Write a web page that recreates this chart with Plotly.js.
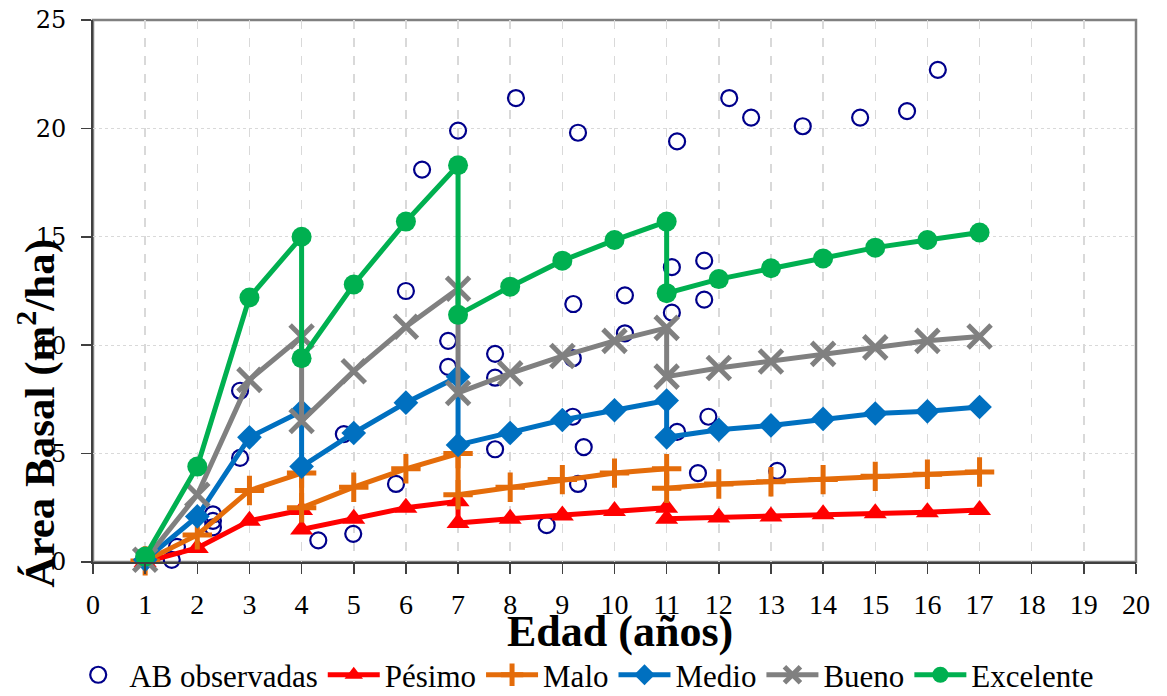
<!DOCTYPE html>
<html>
<head>
<meta charset="utf-8">
<script src="https://cdn.plot.ly/plotly-3.0.1.min.js"></script>
<style>html,body{margin:0;padding:0;background:#fff;}#chart{width:1167px;height:696px;}</style>
</head>
<body>
<div id="chart"></div>
<script>
// Model ages (duplicate ages mark the thinning drops)
const edades = [1, 2, 3, 4, 4, 5, 6, 7, 7, 8, 9, 10, 11, 11, 12, 13, 14, 15, 16, 17];
const pesimo    = [0.0, 0.65, 1.9, 2.4, 1.5, 2.0, 2.5, 2.8, 1.8, 2.0, 2.15, 2.35, 2.5, 2.0, 2.05, 2.1, 2.2, 2.25, 2.3, 2.4];
const malo      = [0.05, 1.25, 3.3, 4.1, 2.5, 3.45, 4.3, 5.0, 3.1, 3.45, 3.8, 4.1, 4.3, 3.4, 3.6, 3.7, 3.8, 3.95, 4.05, 4.15];
const medio     = [0.1, 2.1, 5.75, 6.95, 4.4, 5.95, 7.35, 8.55, 5.4, 5.95, 6.55, 7.0, 7.45, 5.75, 6.1, 6.3, 6.6, 6.85, 6.95, 7.15];
const bueno     = [0.1, 3.1, 8.4, 10.4, 6.5, 8.8, 10.85, 12.6, 7.8, 8.7, 9.5, 10.2, 10.8, 8.55, 8.95, 9.25, 9.6, 9.9, 10.2, 10.4];
const excelente = [0.25, 4.4, 12.2, 15.0, 9.4, 12.8, 15.7, 18.3, 11.4, 12.7, 13.9, 14.85, 15.7, 12.4, 13.05, 13.55, 14.0, 14.5, 14.85, 15.2];

// Observed basal area
const obsEdad = [1.51, 1.61, 2.30, 2.30, 2.30, 2.82, 2.82, 4.32, 4.81, 4.99, 5.81, 6.00, 6.31, 6.81, 6.81, 7.00,
                 7.71, 7.71, 7.71, 8.11, 8.70, 9.21, 9.20, 9.20, 9.30, 9.30, 9.41, 10.20, 10.20, 11.10, 11.10,
                 11.20, 11.20, 11.60, 11.72, 11.72, 11.80, 12.20, 12.62, 13.12, 13.61, 14.71, 15.61, 16.20];
const obsAB   = [0.1, 0.7, 2.2, 1.9, 1.6, 4.8, 7.9, 1.0, 5.9, 1.3, 3.6, 12.5, 18.1, 10.2, 9.0, 19.9,
                 9.6, 8.5, 5.2, 21.4, 1.7, 11.9, 9.4, 6.7, 19.8, 3.6, 5.3, 12.3, 10.55, 13.6, 11.5,
                 19.4, 6.0, 4.1, 13.9, 12.1, 6.7, 21.4, 20.5, 4.2, 20.1, 20.5, 20.8, 22.7];

const xTickVals = [0,1,2,3,4,5,6,7,8,9,10,11,12,13,14,15,16,17,18,19,20];
const yTickVals = [0,5,10,15,20,25];

const serif = "Liberation Serif, DejaVu Serif, serif";

function serie(name, y, color, symbol, size) {
  return {
    x: edades, y: y, name: name, type: 'scatter', mode: 'lines+markers',
    line: {color: color, width: 5},
    marker: {color: color, symbol: symbol, size: size, line: {width: 0}},
    cliponaxis: false
  };
}

const traces = [
  {x: obsEdad, y: obsAB, name: 'AB observadas', type: 'scatter', mode: 'markers',
   marker: {symbol: 'circle-open', size: 16, color: '#00008B', line: {width: 2.2, color: '#00008B'}},
   cliponaxis: false},
  serie('Pésimo', pesimo, '#FF0000', 'triangle-up', 20),
  serie('Malo', malo, '#E46C0A', 'cross-thin-open', 21),
  serie('Medio', medio, '#0070C0', 'diamond', 19),
  serie('Bueno', bueno, '#808080', 'x-thin-open', 23),
  serie('Excelente', excelente, '#00B050', 'circle', 20)
];
traces[2].marker.line = {width: 5, color: '#E46C0A'};
traces[4].marker.line = {width: 5, color: '#808080'};

const layout = {
  width: 1167, height: 696,
  margin: {l: 93, r: 31, t: 20, b: 134, autoexpand: false},
  paper_bgcolor: '#fff', plot_bgcolor: '#fff',
  showlegend: true,
  font: {family: serif, color: '#000'},
  xaxis: {
    range: [0, 20], tickvals: xTickVals, ticktext: xTickVals.map(String),
    automargin: false,
    showgrid: true, gridcolor: '#D9D9D9', griddash: 'dash', gridwidth: 1.5,
    zeroline: false, showline: true, linecolor: '#404040', linewidth: 2,
    ticks: 'outside', ticklen: 10, tickwidth: 1.5, tickcolor: '#404040',
    ticklabelstandoff: 6,
    tickfont: {family: serif, size: 28, color: '#000'}
  },
  yaxis: {
    range: [0, 25], tickvals: yTickVals, automargin: false,
    showgrid: true, gridcolor: '#D9D9D9', griddash: 'dot', gridwidth: 1,
    zeroline: false, showline: true, linecolor: '#404040', linewidth: 2,
    ticks: 'outside', ticklen: 10, tickwidth: 1.5, tickcolor: '#404040',
    ticklabelstandoff: 10,
    tickfont: {family: "DejaVu Serif, serif", size: 24, color: '#000'}
  },
  shapes: [
    {type: 'rect', xref: 'paper', yref: 'paper', x0: 0, x1: 1, y0: 0, y1: 1,
     line: {color: '#808080', width: 2.5}, layer: 'below'}
  ],
  annotations: [
    {xref: 'paper', yref: 'paper', x: -0.054, y: 0.275, xanchor: 'center', yanchor: 'middle',
     text: '<b>Área Basal (m<sup>2</sup>/ha)</b>', textangle: -90, showarrow: false,
     font: {family: serif, size: 43, color: '#000'}},
    {xref: 'paper', yref: 'paper', x: 0.505, y: -0.129, xanchor: 'center', yanchor: 'middle',
     text: '<b>Edad (años)</b>', showarrow: false,
     font: {family: serif, size: 44, color: '#000'}}
  ],
  legend: {
    orientation: 'h', x: 0.47, xanchor: 'center', yref: 'container', y: 0.03, yanchor: 'middle',
    font: {family: serif, size: 31, color: '#000'},
    itemwidth: 52, tracegroupgap: 0, bgcolor: 'rgba(0,0,0,0)'
  }
};

Plotly.newPlot('chart', traces, layout, {displayModeBar: false, staticPlot: true});
</script>
</body>
</html>
